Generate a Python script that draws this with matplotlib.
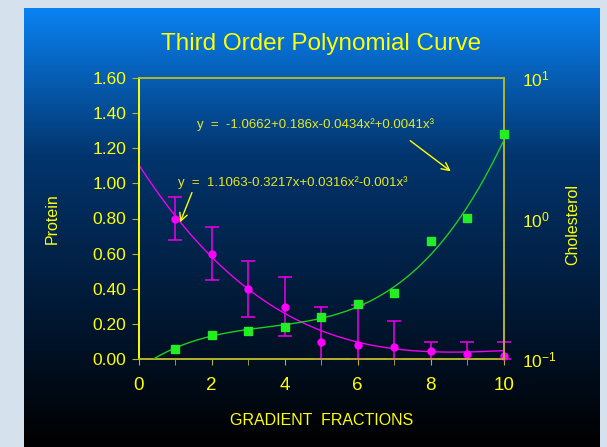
import numpy as np
import matplotlib
matplotlib.use("Agg")
import matplotlib.pyplot as plt
from matplotlib.colors import LinearSegmentedColormap

plt.rcParams['font.family'] = ['Liberation Sans', 'DejaVu Sans']
plt.rcParams['mathtext.fontset'] = 'custom'
plt.rcParams['mathtext.rm'] = 'Liberation Sans'
plt.rcParams['mathtext.it'] = 'Liberation Sans'

# ---------------- data ----------------
fractions = [1, 2, 3, 4, 5, 6, 7, 8, 9, 10]
protein = [0.80, 0.60, 0.40, 0.30, 0.10, 0.08, 0.07, 0.05, 0.03, 0.02]
protein_hi = [0.92, 0.75, 0.56, 0.47, 0.30, 0.31, 0.22, 0.10, 0.10, 0.10]
protein_lo = [0.68, 0.45, 0.24, 0.13, 0.00, 0.00, 0.00, 0.00, 0.00, 0.00]
cholesterol = [0.118, 0.149, 0.159, 0.169, 0.199, 0.248, 0.297, 0.69, 1.01, 3.98]
protein_coef = [1.1063, -0.3217, 0.0316, -0.001]      # fitted polynomial (printed on chart)
chol_log_coef = [-1.0662, 0.186, -0.0434, 0.0041]     # fitted polynomial of log10(cholesterol)
xticks = [0, 2, 4, 6, 8, 10]
yticks = [0.0, 0.2, 0.4, 0.6, 0.8, 1.0, 1.2, 1.4, 1.6]
title = "Third Order Polynomial Curve"
eq_chol = "y  =  -1.0662+0.186x-0.0434x\u00b2+0.0041x\u00b3"
eq_prot = "y  =  1.1063-0.3217x+0.0316x\u00b2-0.001x\u00b3"

W, H = 607, 447
fig = plt.figure(figsize=(W / 100, H / 100), dpi=100)

# background
bg = fig.add_axes([0, 0, 1, 1], zorder=-10)
bg.set_xlim(0, W)
bg.set_ylim(H, 0)
bg.axis('off')
bg.add_patch(plt.Rectangle((0, 0), W, H, color='#d5e2ed'))
cmap = LinearSegmentedColormap.from_list('bgc', ['#0a82f2', '#02356e', '#011a38', '#000000'])
grad = np.linspace(0, 1, 256).reshape(-1, 1)
bg.imshow(grad, cmap=cmap, aspect='auto', extent=(24, 600, H, 8), zorder=1)

# main axes
x0, x1, yt, yb = 138.7, 503.7, 77.7, 359.3
ax = fig.add_axes([x0 / W, 1 - yb / H, (x1 - x0) / W, (yb - yt) / H])
ax.set_facecolor('none')
ax.set_xlim(0, 10)
ax.set_ylim(0, 1.6)

ax2 = ax.twinx()
ax2.set_yscale('log')
ax2.set_ylim(0.1, 10)
ax2.set_facecolor('none')

yellow = '#ffff00'
olive = '#b5b52a'

for a in (ax, ax2):
    for s in a.spines.values():
        s.set_color(olive)
        s.set_linewidth(1.2)
ax.spines['left'].set_color(yellow)
ax2.spines['left'].set_color(yellow)

ax.set_xticks(xticks)
ax.set_xticklabels([str(v) for v in xticks])
ax.set_xticks(np.arange(0, 11, 1), minor=True)
ax.set_yticks(yticks)
ax.set_yticklabels(['%.2f' % v for v in yticks])
ax.tick_params(axis='x', which='both', direction='out', length=4, color=olive,
               labelcolor=yellow, labelsize=13.5, pad=9)
ax.tick_params(axis='y', direction='out', length=5, color=olive,
               labelcolor=yellow, labelsize=12.5, pad=4)
ax2.set_yticks([0.1, 1, 10])
ax2.set_yticklabels([r'$10^{-1}$', r'$10^{0}$', r'$10^{1}$'])
ax2.yaxis.set_minor_locator(matplotlib.ticker.NullLocator())
ax2.tick_params(axis='y', length=0, labelcolor=yellow, labelsize=12.5, pad=13)

ax.set_xlabel('GRADIENT  FRACTIONS', color=yellow, fontsize=11.5)
ax.xaxis.set_label_coords(0.5, -0.19)
ax.set_ylabel('Protein', color=yellow, fontsize=11.5)
ax.yaxis.set_label_coords(-0.215, 0.5)
ax2.set_ylabel('Cholesterol', color=yellow, fontsize=11.5)
ax2.yaxis.set_label_coords(1.168, 0.48)

fig.text(321.5 / W, 1 - 44 / H, title, color=yellow, fontsize=17.5,
         ha='center', va='center')

# protein fit curve
xc = np.linspace(0, 10, 300)
pc = sum(c * xc ** i for i, c in enumerate(protein_coef))
ax.plot(xc, pc, color='#f000f0', lw=1.0, zorder=3)

prot = np.array(protein)
yerr = [prot - np.array(protein_lo), np.array(protein_hi) - prot]
ax.errorbar(fractions, protein, yerr=yerr, fmt='o', color='#ff00ff', ecolor='#e000e0',
            markersize=5, capsize=5, elinewidth=1.2, capthick=1.2, clip_on=False, zorder=4)

# cholesterol fit curve
xg = np.linspace(0.3, 10, 300)
gc = 10 ** sum(c * xg ** i for i, c in enumerate(chol_log_coef))
ax2.plot(xg, gc, color='#22cc22', lw=1.0, zorder=3)
ax2.plot(fractions, cholesterol, 's', color='#22ee22', markersize=5.5, clip_on=False, zorder=5)

# equations with arrows (pixel coords measured from top, converted)
eqc = '#e8e820'
ax2.annotate('', xy=(453, H - 173), xycoords='figure pixels', xytext=(408, H - 139),
             textcoords='figure pixels',
             arrowprops=dict(arrowstyle='->', color=yellow, lw=1.0, mutation_scale=14))
ax2.annotate('', xy=(179, H - 225), xycoords='figure pixels', xytext=(193, H - 190),
             textcoords='figure pixels',
             arrowprops=dict(arrowstyle='->', color=yellow, lw=1.0, mutation_scale=14))
fig.text(197 / W, 1 - 125 / H, eq_chol, color=eqc, fontsize=9.5, ha='left', va='center')
fig.text(178 / W, 1 - 183 / H, eq_prot, color=eqc, fontsize=9.5, ha='left', va='center')

fig.savefig('out.png', dpi=100)
